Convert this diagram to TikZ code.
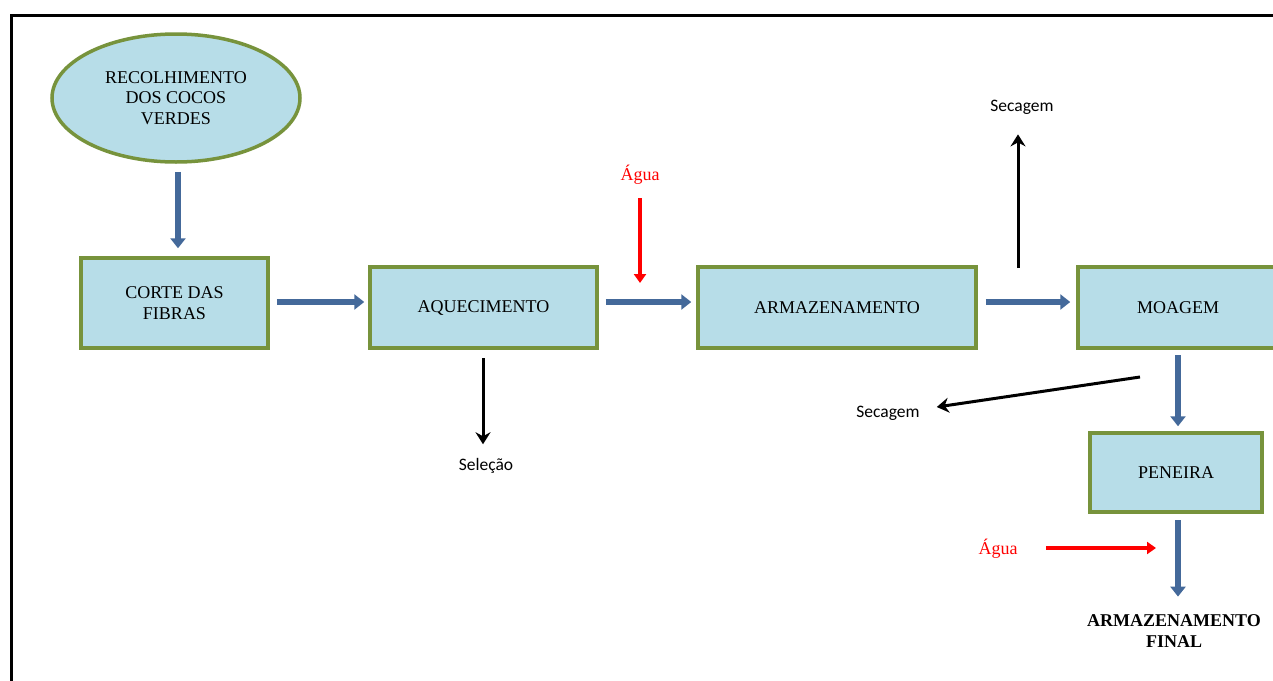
\documentclass[tikz,border=0pt]{standalone}
\usepackage{fontspec}
\setmainfont{Liberation Serif}
\newfontfamily\labfont{Carlito}
\usetikzlibrary{arrows.meta,shapes.geometric}
\definecolor{boxfill}{HTML}{B7DDE8}
\definecolor{boxline}{HTML}{77933C}
\definecolor{flowblue}{HTML}{44699A}
\begin{document}
\begin{tikzpicture}[x=1pt,y=-1pt,
  procbox/.style={draw=boxline,line width=3.5pt,fill=boxfill,inner sep=0pt,
    align=center,font=\fontsize{18}{20.5}\selectfont},
  flow/.style={draw=flowblue,line width=6pt,-{Triangle[width=15pt,length=10pt]}},
  sidearrow/.style={draw=black,line width=3pt,-{Stealth[width=15pt,length=12pt,inset=4pt]}},
  water/.style={draw=red,line width=4.5pt,-{Triangle[width=12pt,length=9pt]}},
  sidelabel/.style={font=\labfont\fontsize{17.5}{20}\selectfont,inner sep=0pt},
  waterlabel/.style={text=red,font=\fontsize{18}{20}\selectfont,inner sep=0pt}]
\useasboundingbox (0,0) rectangle (1273,680);
\fill[white] (0,0) rectangle (1273,680);
% frame
\draw[line width=3pt] (11,690) -- (11,15) -- (1290,15);
% nodes
\node[procbox,ellipse,minimum width=248pt,minimum height=128pt] (recol) at (176,98)
  {RECOLHIMENTO\\DOS COCOS\\VERDES};
\node[procbox,minimum width=187pt,minimum height=90pt] (corte) at (174.5,303)
  {CORTE DAS\\FIBRAS};
\node[procbox,minimum width=227pt,minimum height=81pt] (aquec) at (483.5,307.5)
  {AQUECIMENTO};
\node[procbox,minimum width=278pt,minimum height=81pt] (armaz) at (837,307.5)
  {ARMAZENAMENTO};
\node[procbox,minimum width=200pt,minimum height=81pt] (moag) at (1178,307.5)
  {MOAGEM};
\node[procbox,minimum width=172pt,minimum height=79pt] (pen) at (1176,472.5)
  {PENEIRA};
\node[font=\bfseries\fontsize{18}{20.5}\selectfont,align=center,inner sep=0pt] (final) at (1174,631)
  {ARMAZENAMENTO\\FINAL};
\node[waterlabel] (agua1) at (640,175) {Água};
\node[waterlabel] (agua2) at (998,549) {Água};
\node[sidelabel] (sec1) at (1022,107) {Secagem};
\node[sidelabel] (sec2) at (888,413) {Secagem};
\node[sidelabel] (sel) at (486,466) {Seleção};
% coordinates
\coordinate (a1) at (640,198);
\coordinate (a1e) at (640,283);
\coordinate (a2) at (1046,548);
\coordinate (a2e) at (1156,548);
\coordinate (s1) at (1018,268);
\coordinate (s2) at (1140,377);
\coordinate (sl) at (483,358);
\coordinate (pb) at (1178,520);
\coordinate (mb) at (1178,355);
% flow arrows
\draw[flow] ([yshift=-8pt]recol.south -| 178,0) -- ([yshift=8pt]corte.north -| 178,0);
\draw[flow] ([xshift=7pt]corte.east |- 0,302) -- ([xshift=-4pt]aquec.west |- 0,302);
\draw[flow] ([xshift=7pt]aquec.east |- 0,302) -- ([xshift=-5pt]armaz.west |- 0,302);
\draw[flow] ([xshift=8pt]armaz.east |- 0,302) -- ([xshift=-6pt]moag.west |- 0,302);
\draw[flow] (mb) -- ([yshift=5pt]pen.north -| mb);
\draw[flow] (pb) -- ([yshift=18pt]final.north -| pb);
% side arrows
\draw[sidearrow] (sl) -- ([yshift=14pt]sel.north -| sl);
\draw[sidearrow] (s1) -- ([yshift=-20pt]sec1.south -| s1);
\draw[sidearrow] (s2) -- ([xshift=17pt,yshift=6pt]sec2.east);
% water
\draw[water] (a1) -- (a1e);
\draw[water] (a2) -- (a2e);
\end{tikzpicture}
\end{document}
